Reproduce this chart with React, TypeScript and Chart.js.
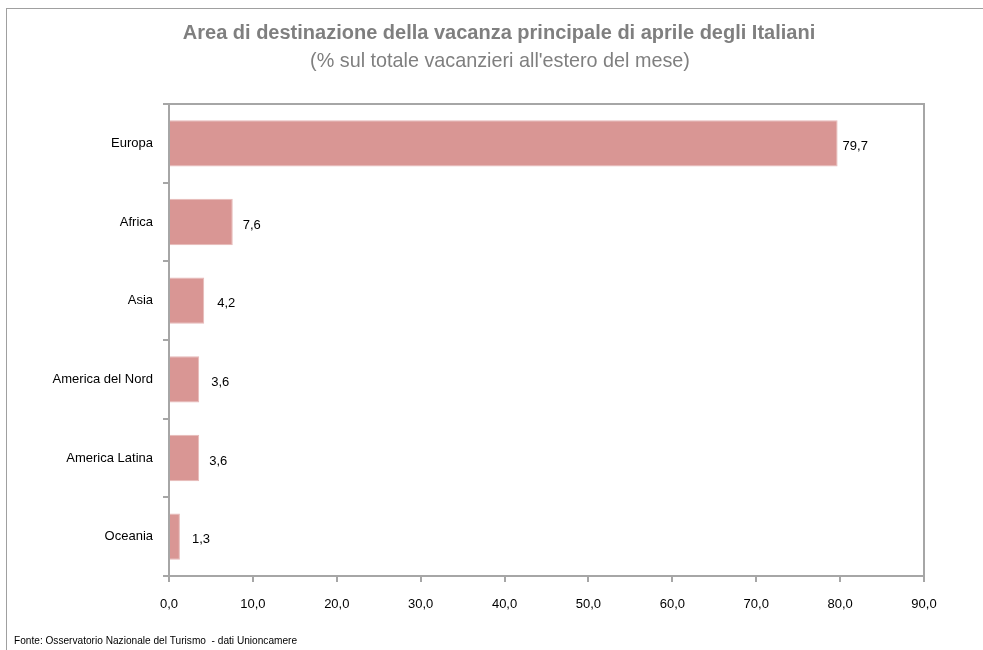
import React, { useEffect, useRef } from "react";
import { Chart, registerables } from "chart.js";

Chart.register(...registerables);

const categories = ["Europa", "Africa", "Asia", "America del Nord", "America Latina", "Oceania"];
const values = [79.7, 7.6, 4.2, 3.6, 3.6, 1.3];
const xTicks = [0, 10, 20, 30, 40, 50, 60, 70, 80, 90];
const titleText = "Area di destinazione della vacanza principale di aprile degli Italiani";
const subtitleText = "(% sul totale vacanzieri all'estero del mese)";
const sourceText = "Fonte: Osservatorio Nazionale del Turismo  - dati Unioncamere";
// horizontal gap between bar end and its value label (px)
const labelGap = [5, 10, 13, 12, 10, 12];

const fmt = (v: number) => v.toFixed(1).replace(".", ",");
const SANS = "'Liberation Sans', Arial, sans-serif";

const decor = {
  id: "decor",
  afterDraw(chart: any) {
    const { ctx, chartArea } = chart;
    ctx.save();
    // plot border
    ctx.strokeStyle = "#a6a6a6";
    ctx.lineWidth = 2;
    ctx.strokeRect(chartArea.left, chartArea.top, chartArea.right - chartArea.left, chartArea.bottom - chartArea.top);
    // titles
    ctx.textAlign = "center";
    ctx.textBaseline = "middle";
    ctx.fillStyle = "#7f7f7f";
    ctx.font = "bold 20px " + SANS;
    ctx.fillText(titleText, 499, 33);
    ctx.font = "19.8px " + SANS;
    ctx.fillText(subtitleText, 500, 62);
    // source (condensed)
    ctx.save();
    ctx.translate(14, 641);
    ctx.scale(0.92, 1);
    ctx.textAlign = "left";
    ctx.fillStyle = "#000";
    ctx.font = "11px " + SANS;
    ctx.fillText(sourceText, 0, 0);
    ctx.restore();
    // data labels
    const meta = chart.getDatasetMeta(0);
    ctx.textAlign = "left";
    ctx.font = "13px " + SANS;
    ctx.fillStyle = "#000";
    meta.data.forEach((bar: any, i: number) => {
      ctx.fillText(fmt(values[i]), bar.x + labelGap[i], bar.y + 3);
    });
    ctx.restore();
  },
};

export default function App() {
  const ref = useRef<HTMLCanvasElement>(null);
  useEffect(() => {
    if (!ref.current) return;
    const chart = new Chart(ref.current, {
      type: "bar",
      data: {
        labels: categories,
        datasets: [
          {
            data: values,
            backgroundColor: "#d99694",
            borderColor: "#e6b9b8",
            borderWidth: 1,
            barPercentage: 0.59,
            categoryPercentage: 1,
          },
        ],
      },
      options: {
        indexAxis: "y",
        animation: false,
        responsive: false,
        maintainAspectRatio: false,
        layout: { padding: { left: 0, right: 59, top: 104, bottom: 0 } },
        plugins: { legend: { display: false }, title: { display: false }, tooltip: { enabled: false } },
        scales: {
          x: {
            min: 0,
            max: 90,
            afterFit: (s: any) => {
              s.height = 74;
            },
            afterBuildTicks: (s: any) => {
              s.ticks = xTicks.map((v) => ({ value: v }));
            },
            ticks: {
              color: "#000",
              font: { family: SANS, size: 13 },
              padding: 15,
              callback: (v: any) => fmt(Number(v)),
            },
            grid: { drawOnChartArea: false, drawTicks: true, tickLength: 6, color: "#a6a6a6", lineWidth: 2 },
            border: { display: true, color: "#a6a6a6", width: 2 },
          },
          y: {
            afterFit: (s: any) => {
              s.width = 169;
            },
            ticks: {
              color: "#000",
              font: { family: SANS, size: 13 },
              padding: 10,
            },
            grid: { drawOnChartArea: false, drawTicks: true, tickLength: 6, color: "#a6a6a6", lineWidth: 2, offset: true },
            border: { display: true, color: "#a6a6a6", width: 2 },
          },
        },
      },
      plugins: [decor],
    });
    return () => chart.destroy();
  }, []);
  return (
    <div style={{ position: "fixed", left: 0, top: 0, width: 983, height: 650, background: "#fff", overflow: "hidden" }}>
      <div
        style={{
          position: "absolute",
          left: 6,
          top: 8,
          width: 1000,
          height: 700,
          borderLeft: "1px solid #a0a0a0",
          borderTop: "1px solid #a0a0a0",
        }}
      />
      <canvas ref={ref} width={983} height={650} style={{ position: "absolute", left: 0, top: 0, width: 983, height: 650 }} />
    </div>
  );
}
